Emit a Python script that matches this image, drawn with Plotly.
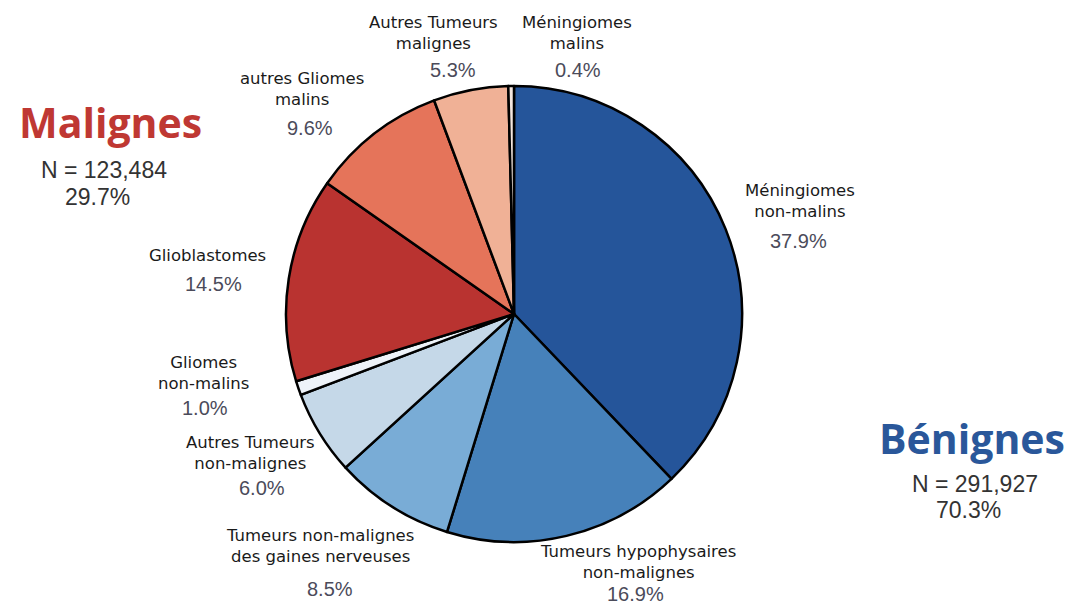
import plotly.graph_objects as go

# ---- data ----
categories = [
    "Méningiomes<br>non-malins",
    "Tumeurs hypophysaires<br>non-malignes",
    "Tumeurs non-malignes<br>des gaines nerveuses",
    "Autres Tumeurs<br>non-malignes",
    "Gliomes<br>non-malins",
    "Glioblastomes",
    "autres Gliomes<br>malins",
    "Autres Tumeurs<br>malignes",
    "Méningiomes<br>malins",
]
percentages = [37.9, 16.9, 8.5, 6.0, 1.0, 14.5, 9.6, 5.3, 0.4]
group_names = ["Malignes", "Bénignes"]
group_counts = ["123,484", "291,927"]
group_pcts = [29.7, 70.3]

# ---- styles / layout ----
colors = ["#25559a", "#4681ba", "#79acd6", "#c5d8e8", "#eef3f9",
          "#b93330", "#e5745a", "#f0b196", "#f3e6df"]
OFF = 8  # page body margin
W, H = 1078 - OFF, 605 - OFF
cx, cy, r = 514, 314, 228

# label positions in page pixels: (name_x, name_y_first_line, pct_x, pct_y)
label_pos = [
    (800, 190, 798, 241),
    (638, 551, 635, 594),
    (320, 535, 330, 589),
    (250, 442, 262, 488),
    (203, 362, 205, 408),
    (207, 255, 213, 284),
    (302, 78, 310, 128),
    (433, 22, 453, 70),
    (577, 22, 578, 70),
]


def px(x):
    return (x - OFF) / W


def py(y):
    return 1 - (y - OFF) / H


fig = go.Figure(go.Pie(
    labels=categories,
    values=percentages,
    sort=False,
    direction="clockwise",
    rotation=0,
    textinfo="none",
    hoverinfo="label+percent",
    marker=dict(colors=colors, line=dict(color="#000000", width=2.5)),
    domain=dict(x=[px(cx - r), px(cx + r)],
                y=[py(cy + r), py(cy - r)]),
    showlegend=False,
))

ann = []
for name, pct, (nx, ny, qx, qy) in zip(categories, percentages, label_pos):
    ann.append(dict(x=px(nx), y=py(ny - 11), xref="paper", yref="paper",
                    text=name, showarrow=False, xanchor="center", yanchor="top",
                    font=dict(family="DejaVu Sans", size=16.5, color="#1a1a1a"),
                    align="center"))
    ann.append(dict(x=px(qx), y=py(qy), xref="paper", yref="paper",
                    text=f"{pct:.1f}%", showarrow=False, xanchor="center", yanchor="middle",
                    font=dict(family="Liberation Sans", size=20, color="#4b4b5a")))

# group headings
group_style = [
    dict(color="#bf3833", tx=110, ty=122, nx=104, ny=170, px_=97, py_=197),
    dict(color="#2a579a", tx=972, ty=438, nx=975, ny=484, px_=968, py_=510),
]
for gname, gcount, gpct, st in zip(group_names, group_counts, group_pcts, group_style):
    ann.append(dict(x=px(st["tx"]), y=py(st["ty"]), xref="paper", yref="paper",
                    text=f"<b>{gname}</b>", showarrow=False, xanchor="center", yanchor="middle",
                    font=dict(family="Open Sans", size=41, color=st["color"])))
    ann.append(dict(x=px(st["nx"]), y=py(st["ny"]), xref="paper", yref="paper",
                    text=f"N = {gcount}", showarrow=False, xanchor="center", yanchor="middle",
                    font=dict(family="Liberation Sans", size=23, color="#333333")))
    ann.append(dict(x=px(st["px_"]), y=py(st["py_"]), xref="paper", yref="paper",
                    text=f"{gpct:.1f}%", showarrow=False, xanchor="center", yanchor="middle",
                    font=dict(family="Liberation Sans", size=23, color="#333333")))

fig.update_layout(
    width=W, height=H,
    margin=dict(l=0, r=0, t=0, b=0),
    paper_bgcolor="white",
    plot_bgcolor="white",
    annotations=ann,
)

fig.write_html("out.html")
